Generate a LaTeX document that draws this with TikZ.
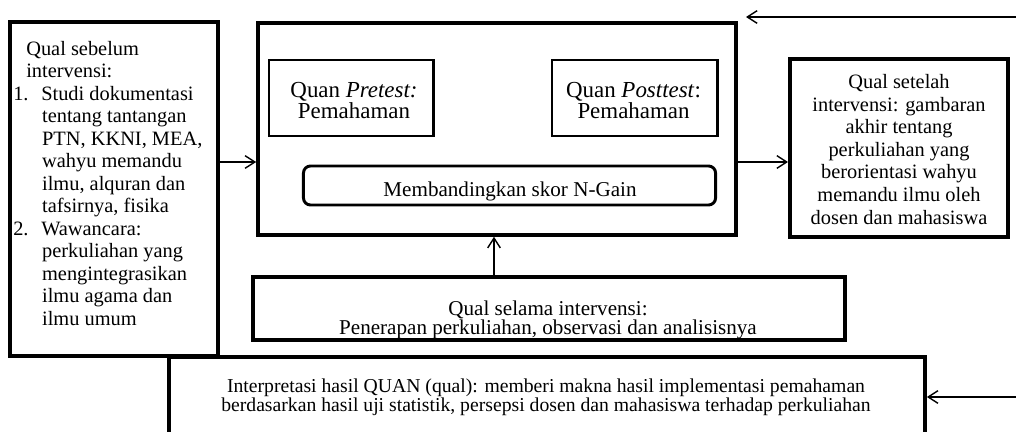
\documentclass[tikz,border=0pt]{standalone}
\usepackage{fontspec}
\setmainfont{Liberation Serif}
\usetikzlibrary{arrows.meta}

\tikzset{
	kotak/.style={draw, line width=2.5pt, inner sep=0pt},
	kotaktebal/.style={kotak, line width=2.8pt},
	kotaktipis/.style={kotak, line width=2.1pt},
	teks/.style={inner sep=0pt, font=\fontsize{14.5}{16}\selectfont},
	panah/.style={line width=1pt, -{Straight Barb[length=7pt,width=9pt]}}
}

\begin{document}
\begin{tikzpicture}[x=0.025cm, y=-0.025cm]
			%%%%% START %%%%%
			\clip (0,0) rectangle (1016,432);
			
			% qual sebelum intervensi
			\node[kotaktebal, minimum width=5.2cm, minimum height=8.35cm] (sebelum) at (114,189) {};
			\node[teks, anchor=north west, align=left] (sebelumteks) at (13,41) {\hspace*{9.25pt}Qual sebelum\\
				\hspace*{9.25pt}intervensi:\\
				\makebox[19.9pt][l]{1.}Studi dokumentasi\\
				\hspace*{20.5pt}tentang tantangan\\
				\hspace*{20.5pt}PTN, KKNI, MEA,\\
				\hspace*{20.5pt}wahyu memandu\\
				\hspace*{20.5pt}ilmu, alquran dan\\
				\hspace*{20.5pt}tafsirnya, fisika\\
				\makebox[19.9pt][l]{2.}Wawancara:\\
				\hspace*{20.5pt}perkuliahan yang\\
				\hspace*{20.5pt}mengintegrasikan\\
				\hspace*{20.5pt}ilmu agama dan\\
				\hspace*{20.5pt}ilmu umum};
			
			% kotak utama: pretest, posttest, n-gain
			\node[kotak, minimum width=11.95cm, minimum height=5.3cm] (utama) at (497,129) {};
			
			\node[kotaktipis, minimum width=4.1cm, minimum height=1.9cm] (pretest) at (351,98) {};
			\node[teks, anchor=north, align=center, font=\fontsize{16.3}{13.2}\selectfont] (pretestteks) at (354,82) {Quan \textit{Pretest:}\\Pemahaman};
			
			\node[kotaktipis, minimum width=4.125cm, minimum height=1.9cm] (posttest) at (634.5,98) {};
			\node[teks, anchor=north, align=center, font=\fontsize{16.3}{13.2}\selectfont] (posttestteks) at (633.5,82) {Quan \textit{Posttest}:\\Pemahaman};
			
			\node[kotaktipis, rounded corners=5pt, minimum width=10.3cm, minimum height=0.975cm] (ngain) at (509.5,185.5) {};
			\node[teks, anchor=base, font=\fontsize{15}{16}\selectfont] (ngainteks) at (510,197) {Membandingkan skor N-Gain};
			
			% qual setelah intervensi
			\node[kotaktebal, minimum width=5.45cm, minimum height=4.45cm] (setelah) at (899,148) {};
			\node[teks, anchor=north, align=center, font=\fontsize{14.5}{16.1}\selectfont] (setelahteks) at (899,74) {Qual setelah\\
				intervensi: gambaran\\
				akhir tentang\\
				perkuliahan yang\\
				berorientasi wahyu\\
				memandu ilmu oleh\\
				dosen dan mahasiswa};
			
			% qual selama intervensi
			\node[kotak, minimum width=14.8cm, minimum height=1.575cm] (selama) at (549,308.5) {};
			\node[teks, anchor=north, align=center, font=\fontsize{15}{12.8}\selectfont] (selamateks) at (548,300.5) {Qual selama intervensi:\\
				Penerapan perkuliahan, observasi dan analisisnya};
			
			% interpretasi
			\node[kotak, minimum width=18.9cm, minimum height=2cm] (interp) at (547,397) {};
			\node[teks, anchor=north, align=center, font=\fontsize{14}{13.5}\selectfont] (interpteks) at (546,378.6) {Interpretasi hasil QUAN (qual): memberi makna hasil implementasi pemahaman\\
				berdasarkan hasil uji statistik, persepsi dosen dan mahasiswa terhadap perkuliahan};
			
			% panah
			\coordinate (ataskanan) at (1016,17);
			\coordinate (ataskiri) at (746,17);
			\coordinate (bawahkanan) at (1016,397);
			\coordinate (garis) at (0,162);
			\coordinate (naik) at (494,0);
			
			\draw[panah] (ataskanan) -- (ataskiri);
			\draw[panah] (bawahkanan) -- (interp.east);
			\draw[panah] (sebelum.east |- garis) -- (utama.west |- garis);
			\draw[panah] (utama.east |- garis) -- (setelah.west |- garis);
			\draw[panah] (selama.north -| naik) -- (utama.south -| naik);
			
			%%%%% END %%%%%
\end{tikzpicture}
\end{document}
